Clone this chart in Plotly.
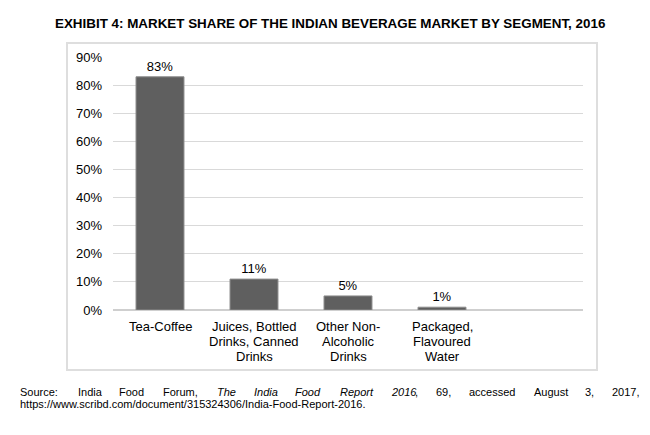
import plotly.graph_objects as go

categories = ["Tea-Coffee", "Juices, Bottled Drinks, Canned Drinks",
              "Other Non-Alcoholic Drinks", "Packaged, Flavoured Water", " "]
category_lines = [["Tea-Coffee"], ["Juices, Bottled", "Drinks, Canned", "Drinks"],
                  ["Other Non-", "Alcoholic", "Drinks"], ["Packaged,", "Flavoured", "Water"], []]
shares = [83, 11, 5, 1, None]
labels = ["83%", "11%", "5%", "1%", ""]
y_ticks = [0, 10, 20, 30, 40, 50, 60, 70, 80, 90]
y_tick_text = [f"{v}%" for v in y_ticks]

title = "EXHIBIT 4: MARKET SHARE OF THE INDIAN BEVERAGE MARKET BY SEGMENT, 2016"
source_words = [("Source:", 18, False), ("India", 76, False), ("Food", 117, False),
                ("Forum,", 161, False), ("The", 215, True), ("India", 252, True),
                ("Food", 293, True), ("Report", 338, True), ("2016", 389, True),
                (",", 413, False), ("69,", 434, False), ("accessed", 467, False),
                ("August", 532, False), ("3,", 583, False), ("2017,", 610, False)]
source_line2 = "https://www.scribd.com/document/315324306/India-Food-Report-2016."

OFF = 8  # page body margin
W, H = 650 - 2 * OFF, 435 - 2 * OFF
L, T = 113 - OFF, 57 - OFF
R = W - (583 - OFF)
B = H - (310 - OFF)
pw, ph = W - L - R, H - T - B

def px(x):
    return (x - OFF - L) / pw

def py(y):
    return (H - B - (y - OFF)) / ph

FONT = "Liberation Sans, Arial, sans-serif"

fig = go.Figure()
fig.add_trace(go.Bar(
    x=categories, y=shares, text=labels, textposition="outside",
    textfont=dict(size=13, color="#000000", family=FONT),
    marker=dict(color="#5f5f5f", line=dict(color="#8c8c8c", width=1)),
    cliponaxis=False,
))

annotations = [dict(text=f"<b>{title}</b>", x=px(330), y=py(23), xref="paper", yref="paper",
                    xanchor="center", yanchor="middle", showarrow=False,
                    font=dict(size=13.4, color="#000000", family=FONT))]
for cat, lines in zip(categories, category_lines):
    for i, line in enumerate(lines):
        annotations.append(dict(text=line, x=cat, xref="x", y=py(326 + 15 * i), yref="paper",
                                xanchor="center", yanchor="middle", showarrow=False,
                                font=dict(size=13, color="#000000", family=FONT)))
for w, x, it in source_words:
    t = f"<i>{w}</i>" if it else w
    annotations.append(dict(text=t, x=px(x), y=py(392), xref="paper", yref="paper",
                            xanchor="left", yanchor="middle", showarrow=False,
                            font=dict(size=11, color="#000000", family=FONT)))
annotations.append(dict(text=source_line2, x=px(18), y=py(404), xref="paper", yref="paper",
                        xanchor="left", yanchor="middle", showarrow=False,
                        font=dict(size=11, color="#000000", family=FONT)))

fig.update_layout(
    width=W, height=H, autosize=False,
    margin=dict(l=L, r=R, t=T, b=B, pad=0),
    paper_bgcolor="white", plot_bgcolor="white",
    showlegend=False, bargap=0.49,
    font=dict(family=FONT, size=13, color="#000000"),
    annotations=annotations,
    shapes=[dict(type="rect", xref="paper", yref="paper",
                 x0=px(67), x1=px(597), y0=py(370), y1=py(43),
                 line=dict(color="#dedede", width=2), layer="below")],
)
fig.update_xaxes(showgrid=False, showline=False, ticks="", showticklabels=False)
fig.update_yaxes(range=[0, 90.05], tickvals=y_ticks, ticktext=y_tick_text,
                 showgrid=True, gridcolor="#d9d9d9", gridwidth=1,
                 zeroline=True, zerolinecolor="#cfcfcf", zerolinewidth=2,
                 showline=False, ticks="", tickfont=dict(size=13), ticklabelstandoff=10)

fig.write_html("out.html")
